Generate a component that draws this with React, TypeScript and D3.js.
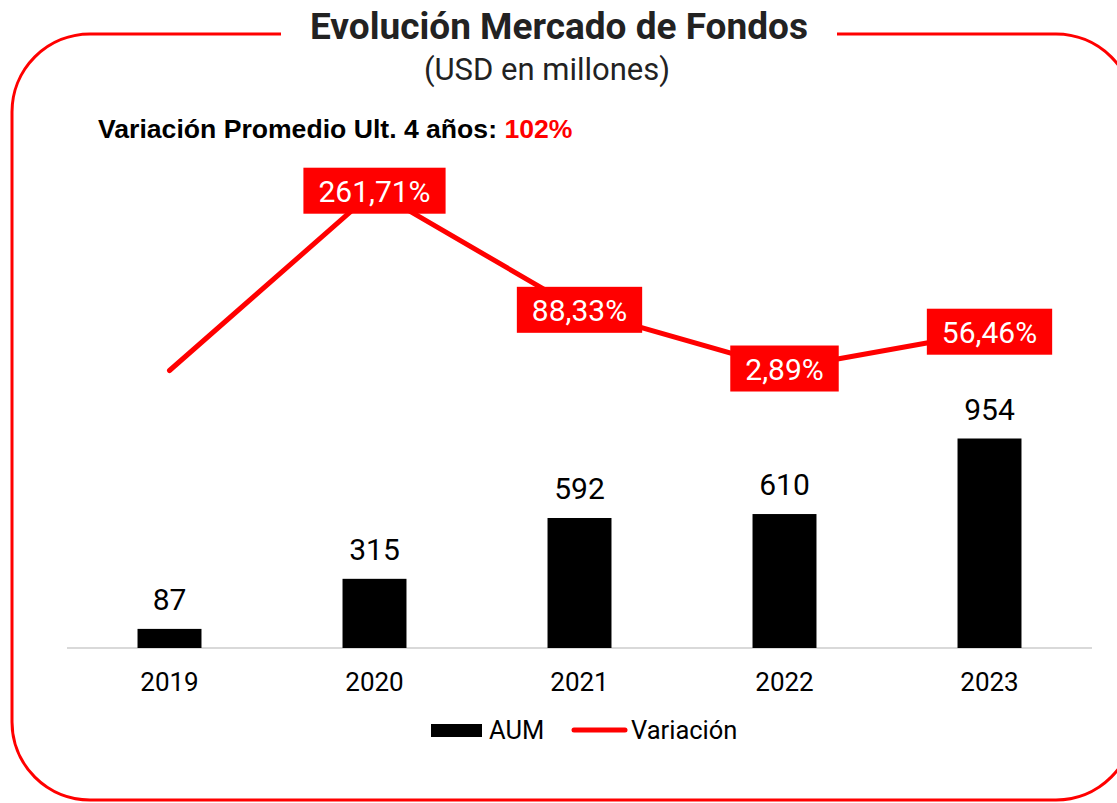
import React from 'react';
import * as d3 from 'd3';

const years = ['2019', '2020', '2021', '2022', '2023'];
const aum = [87, 315, 592, 610, 954];
const variacion = [0, 261.71, 88.33, 2.89, 56.46];
const variacionLabels = ['', '261,71%', '88,33%', '2,89%', '56,46%'];
const titleText = 'Evolución Mercado de Fondos';
const subtitleText = '(USD en millones)';
const headerText = 'Variación Promedio Ult. 4 años: ';
const headerValue = '102%';
const legendItems = ['AUM', 'Variación'];

const RED = '#ff0000';

function measure(text: string, font: string): number {
  const c = document.createElement('canvas').getContext('2d');
  if (!c) return text.length * 15;
  c.font = font;
  return c.measureText(text).width;
}

export default function App() {
  const W = 1117;
  const H = 803;
  const x = d3.scaleBand<string>().domain(years).range([67, 1092]).paddingInner(0.688).paddingOuter(0.344);
  const bw = x.bandwidth();
  const yBar = d3.scaleLinear().domain([0, 1000]).range([648, 428.4]);
  const yLine = d3.scaleLinear().domain([0, 100]).range([370.5, 301.8]);
  const cx = (i: number) => (x(years[i]) as number) + bw / 2;

  const linePath = d3
    .line<number>()
    .x((_, i) => cx(i))
    .y((d) => yLine(d))(variacion) as string;

  // frame
  const L = 12, T = 34, R = 1134, B = 800, r = 78;
  const frame = `M837,${T} L${R - r},${T} A${r},${r} 0 0 1 ${R},${T + r} L${R},${B - r} A${r},${r} 0 0 1 ${R - r},${B} L${L + r},${B} A${r},${r} 0 0 1 ${L},${B - r} L${L},${T + r} A${r},${r} 0 0 1 ${L + r},${T} L281,${T}`;

  const labelFontSize = 30;
  const labelFont = `400 ${labelFontSize}px Roboto`;

  return (
    <svg width={W} height={H} style={{ position: 'absolute', left: 0, top: 0 }} xmlns="http://www.w3.org/2000/svg">
      <rect x={0} y={0} width={W} height={H} fill="#fff" />
      <path d={frame} fill="none" stroke={RED} strokeWidth={3} />
      <text x={559} y={39} textAnchor="middle" fontFamily="Roboto" fontWeight={700} fontSize={37} fill="#222">
        {titleText}
      </text>
      <text x={547} y={80} textAnchor="middle" fontFamily="Roboto" fontWeight={400} fontSize={31} fill="#222">
        {subtitleText}
      </text>
      <text x={98} y={138} fontFamily="'Liberation Sans', Arial, sans-serif" fontWeight={700} fontSize={26.6} fill="#000">
        {headerText}
        <tspan fill={RED}>{headerValue}</tspan>
      </text>

      {/* axis */}
      <line x1={67} x2={1092} y1={648} y2={648} stroke="#d9d9d9" strokeWidth={2} />

      {/* bars */}
      {aum.map((v, i) => (
        <g key={years[i]}>
          <rect x={x(years[i])} y={yBar(v)} width={bw} height={yBar(0) - yBar(v)} fill="#000" />
          <text x={cx(i)} y={yBar(v) - 19} textAnchor="middle" fontFamily="Roboto" fontSize={labelFontSize} fill="#000">
            {v}
          </text>
          <text x={cx(i)} y={691} textAnchor="middle" fontFamily="Roboto" fontSize={26} fill="#000">
            {years[i]}
          </text>
        </g>
      ))}

      {/* line */}
      <path d={linePath} fill="none" stroke={RED} strokeWidth={5} strokeLinecap="round" strokeLinejoin="round" />

      {variacion.map((v, i) => {
        const lbl = variacionLabels[i];
        if (!lbl) return null;
        const tw = measure(lbl, labelFont);
        const boxW = tw + 30;
        const boxH = 46;
        const px = cx(i);
        const py = yLine(v);
        return (
          <g key={'l' + i}>
            <rect x={px - boxW / 2} y={py - boxH / 2} width={boxW} height={boxH} fill={RED} />
            <text x={px} y={py + 11} textAnchor="middle" fontFamily="Roboto" fontSize={labelFontSize} fill="#fff">
              {lbl}
            </text>
          </g>
        );
      })}

      {/* legend */}
      <rect x={431} y={724} width={51} height={13} fill="#000" />
      <text x={489} y={739} fontFamily="Roboto" fontSize={25.5} fill="#000">
        {legendItems[0]}
      </text>
      <line x1={574} x2={625} y1={730} y2={730} stroke={RED} strokeWidth={5} strokeLinecap="round" />
      <text x={631} y={739} fontFamily="Roboto" fontSize={25.5} fill="#000">
        {legendItems[1]}
      </text>
    </svg>
  );
}
